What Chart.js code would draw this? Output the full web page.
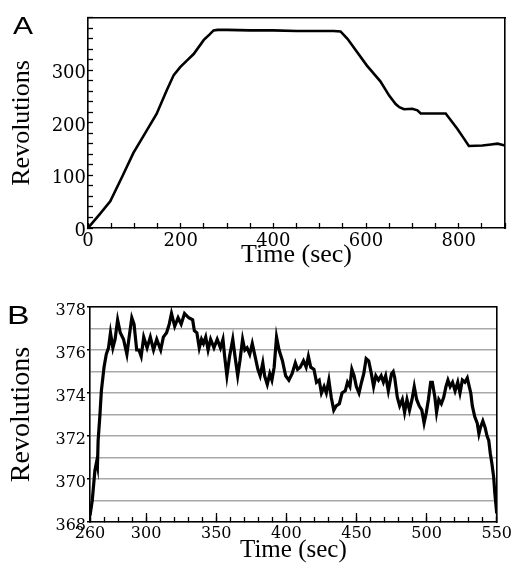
<!DOCTYPE html>
<html><head><meta charset="utf-8">
<script src="https://cdn.jsdelivr.net/npm/chart.js@4.4.1/dist/chart.umd.min.js"></script>
<style>
html,body{margin:0;padding:0;background:#fff;overflow:hidden;width:519px;height:563px;}
canvas{position:absolute;left:0;}
#cA{top:0}
#cB{top:285px}
.panel{position:absolute;font-family:'Liberation Sans',Arial,sans-serif;line-height:1;color:#000;transform-origin:0 0;}
</style></head><body>
<canvas id="cA" width="519" height="285"></canvas>
<canvas id="cB" width="519" height="290"></canvas>
<div class="panel" style="left:13px;top:13.6px;font-size:24px;transform:scaleX(1.25)">A</div>
<div class="panel" style="left:7px;top:301.6px;font-size:26px;transform:scaleX(1.3)">B</div>
<script>
// ---- Panel A data ----
const aTime = [0, 25, 48, 75, 98, 125, 148, 170, 185, 199, 215, 228, 250, 262, 271, 280, 300, 350, 400, 450, 500, 530, 545, 560, 602, 631, 650, 664, 672, 682, 700, 711, 718, 745, 772, 797, 810, 822, 851, 870, 884, 900];
const aRevs = [0, 26, 51, 100, 143, 183, 217, 262, 291, 306, 320, 331, 358, 368, 376, 377, 377, 376, 376, 375, 375, 375, 374, 360, 309, 279, 252, 236, 230, 226, 227, 224, 218, 218, 218, 189, 172, 156, 157, 159, 160.5, 157];
const aXLabels = [0, 200, 400, 600, 800];
const aYLabels = [0, 100, 200, 300];

// ---- Panel B data ----
const bTime = [260, 261.6, 263.5, 264.7, 265.3, 265.8, 267, 268.1, 270, 271.6, 273.2, 274.6, 276.3, 277.9, 279.7, 281.6, 283.9, 286.3, 287.9, 289.8, 291.4, 293.3, 294.9, 296.5, 298.3, 300.7, 303, 305.3, 307.6, 310.4, 312.3, 314.6, 316.5, 318.1, 320.4, 322.8, 325, 327.4, 330.4, 333.2, 334.4, 336.2, 337.9, 339.5, 340.9, 342.5, 344.2, 346, 348.4, 350.7, 353, 354.8, 356, 357.6, 359.5, 361.8, 363.4, 365.3, 366.9, 368.8, 370.4, 372, 373.9, 375.7, 377.4, 379.7, 381.3, 383.2, 384.5, 386.4, 388.2, 389.7, 391.3, 393, 394.8, 397.2, 399.5, 401.8, 404.1, 406.4, 408, 409.9, 412.2, 414.1, 415.7, 417.4, 419.7, 421.5, 423.4, 425, 426.9, 428.5, 430.3, 432, 433.8, 435.5, 437.8, 439.7, 442, 443.6, 445.3, 446.7, 448.3, 449.9, 451.8, 453.6, 455.2, 456.9, 458.7, 460.6, 462.2, 463.8, 465.7, 467.6, 469.2, 470.8, 472.7, 475, 476.2, 477.3, 479.1, 480.8, 482.7, 484.3, 486, 487.8, 489.6, 491.2, 492.9, 494.7, 496.6, 498.2, 499.8, 501.3, 502.9, 504.1, 505.9, 507.1, 508.7, 510.5, 512.2, 513.8, 515.2, 516.8, 518.5, 520.3, 522.2, 523.8, 525.5, 527.3, 529, 530.4, 531.5, 532.6, 534.3, 536.1, 537.3, 538.4, 540.1, 541.7, 543.1, 544.3, 545.4, 546.6, 547.8, 548.7, 550];
const bRevs = [368.3, 369.0, 370.4, 370.8, 370.6, 371.8, 372.9, 374.1, 375.2, 375.8, 376.1, 376.8, 376.1, 376.5, 377.4, 376.8, 376.5, 375.8, 376.6, 377.5, 377.2, 376.0, 376.0, 375.7, 376.6, 376.1, 376.6, 376.0, 376.5, 376.0, 376.6, 376.8, 377.2, 377.7, 377.1, 377.5, 377.2, 377.7, 377.5, 377.4, 376.9, 376.8, 376.1, 376.5, 376.3, 376.6, 376.0, 376.5, 376.1, 376.5, 376.1, 376.5, 375.7, 374.8, 375.7, 376.5, 375.7, 374.8, 375.5, 376.5, 376.0, 376.1, 375.8, 376.3, 375.8, 375.1, 374.8, 375.4, 374.8, 374.4, 374.9, 374.6, 375.2, 376.6, 376.0, 375.5, 374.8, 374.6, 374.9, 375.4, 375.1, 375.2, 375.5, 375.2, 375.7, 375.2, 375.1, 374.5, 374.6, 374.0, 374.3, 374.0, 374.6, 373.8, 373.2, 373.4, 373.5, 374.0, 374.1, 374.5, 374.3, 375.1, 374.8, 374.3, 374.0, 374.5, 374.9, 375.6, 375.5, 374.9, 374.3, 374.8, 374.6, 374.8, 374.5, 374.8, 374.1, 374.9, 375.0, 374.7, 373.8, 373.4, 373.7, 373.1, 373.7, 373.2, 373.7, 374.3, 373.7, 373.4, 373.2, 372.6, 373.1, 373.7, 374.5, 374.5, 373.8, 373.1, 373.7, 373.5, 373.8, 374.3, 374.6, 374.3, 374.5, 374.1, 374.5, 374.0, 374.6, 374.5, 374.7, 374.3, 374.0, 373.4, 372.9, 372.6, 372.1, 372.4, 372.7, 372.4, 372.0, 371.8, 371.2, 370.7, 370.1, 369.3, 368.4];
const bXLabels = [260, 300, 350, 400, 450, 500, 550];
const bYLabels = [368, 370, 372, 374, 376, 378];

const serif = "'Liberation Serif','Times New Roman',serif";
const tickFamily = "'DejaVu Serif',serif";
const ink = '#000';
const fixW = w => s => { s.width = w; };
const fixH = h => s => { s.height = h; };
// plain frame side (top / right) of the plot box
const frame = (position, min, max, fit) => ({
  type: 'linear', position, min, max, afterFit: fit,
  ticks: { display: false },
  grid: { drawOnChartArea: false, drawTicks: false },
  border: { display: true, color: ink, width: 1.6 }
});
const common = {
  responsive: false, animation: false, devicePixelRatio: 1,
  plugins: { legend: { display: false }, tooltip: { enabled: false } }
};

// ---- Chart A ----
new Chart(document.getElementById('cA'), {
  type: 'line',
  data: { datasets: [{
    data: aTime.map((t, i) => ({ x: t, y: aRevs[i] })),
    xAxisID: 'x', yAxisID: 'y',
    borderColor: '#000', borderWidth: 2.6, pointRadius: 0, tension: 0, fill: false
  }] },
  options: Object.assign({}, common, {
    layout: { padding: { left: 0, top: 11, right: 14, bottom: 0 } },
    scales: {
      x: {
        type: 'linear', position: 'bottom', min: 0, max: 900, afterFit: fixH(57),
        ticks: { stepSize: 50, autoSkip: false, maxRotation: 0, padding: 7.5, color: ink,
          font: { family: tickFamily, size: 18 },
          callback: v => aXLabels.includes(v) ? String(v) : '' },
        grid: { drawOnChartArea: false, drawTicks: true, tickLength: -5, tickColor: ink, tickWidth: 1.3 },
        border: { display: true, color: ink, width: 1.6 },
        title: { display: true, text: 'Time (sec)', color: '#000',
          font: { family: serif, size: 26 }, padding: { top: 0, bottom: 14.4 } }
      },
      y: {
        type: 'linear', position: 'left', min: 0, max: 400, afterFit: fixW(88),
        ticks: { stepSize: 20, autoSkip: false, padding: 7, labelOffset: 3, color: ink,
          font: { family: tickFamily, size: 18 },
          callback: v => aYLabels.includes(v) ? String(v) : '' },
        grid: { drawOnChartArea: false, drawTicks: true, tickLength: -5, tickColor: ink, tickWidth: 1.3 },
        border: { display: true, color: ink, width: 1.6 },
        title: { display: true, text: 'Revolutions', color: '#000',
          font: { family: serif, size: 26 }, padding: { top: 6.4, bottom: 0 } }
      },
      xTop: frame('top', 0, 900, fixH(0)),
      yRight: frame('right', 0, 400, fixW(0))
    }
  })
});

// ---- Chart B ----
new Chart(document.getElementById('cB'), {
  type: 'line',
  data: { datasets: [{
    data: bTime.map((t, i) => ({ x: t, y: bRevs[i] })),
    xAxisID: 'x', yAxisID: 'y',
    borderColor: '#000', borderWidth: 3.2, pointRadius: 0, tension: 0, fill: false
  }] },
  options: Object.assign({}, common, {
    layout: { padding: { left: 0, top: 22, right: 13, bottom: 0 } },
    scales: {
      // longer inner tick marks every 50 s (no labels, zero height, closest to the plot)
      x2: {
        type: 'linear', position: 'bottom', weight: 0, min: 260, max: 550, afterFit: fixH(0),
        ticks: { display: false, stepSize: 50, autoSkip: false },
        grid: { drawOnChartArea: false, drawTicks: true, tickLength: -9, tickColor: ink, tickWidth: 1.3 },
        border: { display: false }
      },
      x: {
        type: 'linear', position: 'bottom', weight: 10, min: 260, max: 550, afterFit: fixH(53),
        ticks: { stepSize: 10, autoSkip: false, maxRotation: 0, padding: 7, color: ink,
          font: { family: tickFamily, size: 16 },
          callback: v => bXLabels.includes(v) ? String(v) : '' },
        grid: { drawOnChartArea: false, drawTicks: true, tickLength: -5, tickColor: ink, tickWidth: 1.3 },
        border: { display: true, color: ink, width: 1.6 },
        title: { display: true, text: 'Time (sec)', color: '#000',
          font: { family: serif, size: 25 }, padding: { top: 0, bottom: 9.4 } }
      },
      y: {
        type: 'linear', position: 'left', min: 368, max: 378, afterFit: fixW(90),
        ticks: { stepSize: 1, autoSkip: false, padding: 1, labelOffset: 3.5, color: ink,
          font: { family: tickFamily, size: 16 },
          callback: v => bYLabels.includes(v) ? String(v) : '' },
        grid: { drawOnChartArea: true, color: '#a8a8a8', lineWidth: 1.5, drawTicks: true, tickLength: 3,
          tickColor: c => (c.tick && bYLabels.includes(c.tick.value)) ? ink : 'rgba(0,0,0,0)', tickWidth: 1.3 },
        border: { display: true, color: ink, width: 1.6 },
        title: { display: true, text: 'Revolutions', color: '#000',
          font: { family: serif, size: 28 }, padding: { top: 5.2, bottom: 0 } }
      },
      xTop: frame('top', 260, 550, fixH(0)),
      yRight: frame('right', 368, 378, fixW(0))
    }
  })
});
</script>
</body></html>
